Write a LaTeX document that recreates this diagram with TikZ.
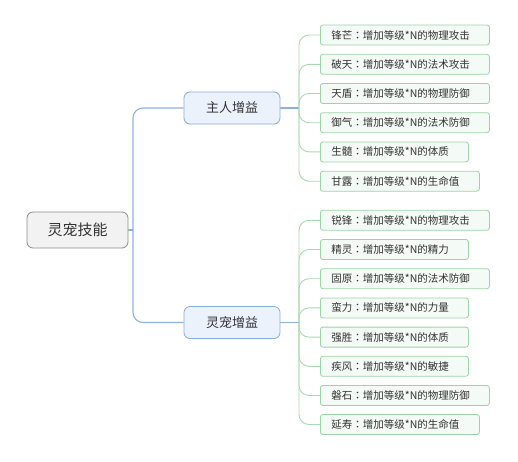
\documentclass[tikz,border=0pt]{standalone}
\usepackage{fontspec}
\newfontfamily\cjk{Noto Sans CJK SC}
\newfontfamily\cjktc{Noto Sans CJK TC}
\newcommand{\cln}{{\cjktc ：}}
\definecolor{rootfill}{HTML}{F2F2F2}
\definecolor{rootborder}{HTML}{8C8C8C}
\definecolor{bfill}{HTML}{EBF2FB}
\definecolor{bborder}{HTML}{86AEDD}
\definecolor{bline}{HTML}{8DB2DE}
\definecolor{lfill}{HTML}{F4FAF5}
\definecolor{lborder}{HTML}{9DD3A8}
\definecolor{lline}{HTML}{A9D9B3}
\definecolor{txt}{HTML}{333333}
\begin{document}
\begin{tikzpicture}[x=1pt,y=-1pt,
  rootbox/.style={draw=rootborder, fill=rootfill, rounded corners=6pt, line width=0.8pt,
    minimum width=101pt, minimum height=36pt, inner sep=0pt,
    font=\cjk\fontsize{15}{18}\selectfont, text=txt},
  branchbox/.style={draw=bborder, fill=bfill, rounded corners=6pt, line width=0.8pt,
    minimum width=96pt, minimum height=32pt, inner sep=0pt,
    font=\cjk\fontsize{13}{16}\selectfont, text=txt},
  leafbox/.style={draw=lborder, fill=lfill, rounded corners=2.5pt, line width=0.8pt,
    anchor=west, minimum height=20pt, inner xsep=11pt, inner ysep=0pt,
    text width=#1, align=left, font=\cjk\fontsize{10.5}{12}\selectfont, text=txt},
  blue/.style={draw=bline, line width=1.1pt},
  green/.style={draw=lline, line width=0.9pt, rounded corners=10pt}
]
\useasboundingbox (0,0) rectangle (518,461);

\node[rootbox] (root) at (77.5,230) {灵宠技能};
\node[branchbox] (b1) at (232,108) {主人增益};
\node[branchbox] (b2) at (232,322.5) {灵宠增益};

\coordinate (trunk) at (133,230);
\draw[blue] (root.east) -- (trunk);
\draw[blue, rounded corners=10pt] (trunk) |- (b1.west);
\draw[blue, rounded corners=10pt] (trunk) |- (b2.west);

% top group
\node[leafbox=147pt] (a1) at (320,35) {锋芒\cln 增加等级*N的物理攻击};
\node[leafbox=147pt] (a2) at (320,64.3) {破天\cln 增加等级*N的法术攻击};
\node[leafbox=147pt] (a3) at (320,93.5) {天盾\cln 增加等级*N的物理防御};
\node[leafbox=147pt] (a4) at (320,122.7) {御气\cln 增加等级*N的法术防御};
\node[leafbox=126pt] (a5) at (320,151.9) {生髓\cln 增加等级*N的体质};
\node[leafbox=137pt] (a6) at (320,181.2) {甘露\cln 增加等级*N的生命值};

\coordinate (g1) at (299,108);
\draw[blue] (b1.east) -- (g1);
\foreach \n in {a1,a2,a3,a4,a5,a6}{
  \draw[green] (g1) |- (\n.west);
}

% bottom group
\node[leafbox=147pt] (c1) at (320,220.3) {锐锋\cln 增加等级*N的物理攻击};
\node[leafbox=126pt] (c2) at (320,249.5) {精灵\cln 增加等级*N的精力};
\node[leafbox=147pt] (c3) at (320,278.7) {固原\cln 增加等级*N的法术防御};
\node[leafbox=126pt] (c4) at (320,307.9) {蛮力\cln 增加等级*N的力量};
\node[leafbox=126pt] (c5) at (320,337.1) {强胜\cln 增加等级*N的体质};
\node[leafbox=126pt] (c6) at (320,366.3) {疾风\cln 增加等级*N的敏捷};
\node[leafbox=147pt] (c7) at (320,395.5) {磐石\cln 增加等级*N的物理防御};
\node[leafbox=137pt] (c8) at (320,424.5) {延寿\cln 增加等级*N的生命值};

\coordinate (g2) at (299,322.5);
\draw[blue] (b2.east) -- (g2);
\foreach \n in {c1,c2,c3,c4,c5,c6,c7,c8}{
  \draw[green] (g2) |- (\n.west);
}
\end{tikzpicture}
\end{document}
